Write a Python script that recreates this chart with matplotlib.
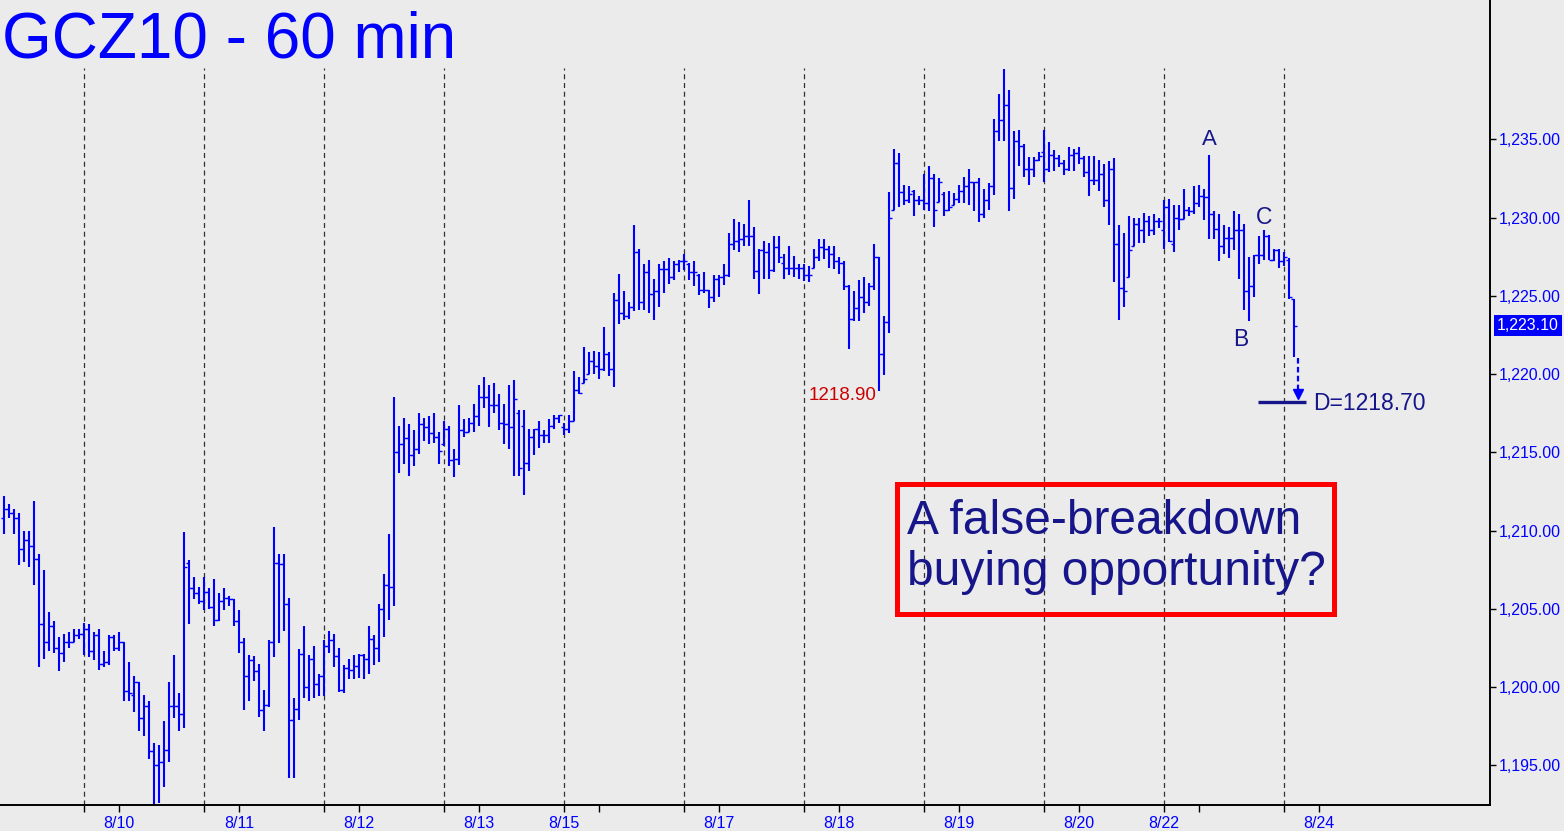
import numpy as np
import matplotlib
matplotlib.use('Agg')
import matplotlib.pyplot as plt
import matplotlib.transforms as mtransforms
from matplotlib.patches import Rectangle

plt.rcParams['font.family'] = ['Liberation Sans', 'DejaVu Sans']

# GCZ10 hourly bars (open, high, low, close), one entry per bar
opens = [
    1210.8, 1211.4, 1211.1, 1210.8, 1208.8, 1209.4, 1209.0, 1208.2, 1204.0, 1202.9,
    1203.9, 1202.5, 1202.2, 1202.9, 1202.9, 1203.3, 1203.4, 1203.7, 1202.3, 1203.3,
    1201.5, 1201.6, 1203.2, 1202.5, 1202.9, 1199.75, 1199.5, 1200.3, 1198.0, 1198.8,
    1195.9, 1195.0, 1195.2, 1196.0, 1198.8, 1198.8, 1198.3, 1207.9, 1206.3, 1206.0,
    1205.5, 1206.1, 1205.1, 1204.3, 1205.5, 1205.7, 1205.6, 1204.2, 1202.9, 1200.7,
    1201.7, 1201.0, 1198.5, 1198.85, 1202.9, 1207.95, 1207.85, 1205.3, 1197.9, 1198.6,
    1202.1, 1200.0, 1201.8, 1200.2, 1200.7, 1202.6, 1203.0, 1202.0, 1199.8, 1201.2,
    1201.1, 1201.35, 1202.05, 1201.8, 1203.05, 1202.5, 1205.0, 1206.5, 1206.4, 1215.0,
    1215.5, 1215.9, 1214.8, 1215.2, 1216.8, 1216.6, 1216.2, 1216.0, 1215.5, 1216.5,
    1214.5, 1214.6, 1216.4, 1216.3, 1216.9, 1217.3, 1218.5, 1218.5, 1218.0, 1218.0,
    1216.9, 1216.8, 1216.6, 1217.5, 1216.7, 1214.3, 1216.0, 1216.5, 1216.1, 1216.1,
    1216.7, 1217.2, 1216.6, 1216.5, 1217.0, 1219.0, 1219.4, 1220.0, 1220.85, 1220.5,
    1220.3, 1221.3, 1220.3, 1224.7, 1223.9, 1223.7, 1224.3, 1227.8, 1224.6, 1226.5,
    1225.1, 1225.3, 1226.7, 1226.7, 1226.2, 1227.0, 1227.25, 1227.0, 1226.5, 1226.3,
    1225.4, 1225.4, 1224.95, 1226.1, 1226.2, 1226.3, 1228.3, 1228.5, 1228.6, 1228.8,
    1228.8, 1226.6, 1227.9, 1227.8, 1226.65, 1228.1, 1227.1, 1226.8, 1226.8, 1226.8,
    1226.8, 1226.3, 1226.8, 1227.45, 1228.1, 1228.0, 1227.65, 1227.2, 1227.1, 1225.65,
    1223.5, 1224.2, 1224.9, 1224.6, 1225.6, 1227.5, 1221.3, 1223.35, 1230.5, 1233.46,
    1231.6, 1231.1, 1231.7, 1231.1, 1231.1, 1230.95, 1232.5, 1231.0, 1231.5, 1230.5,
    1230.8, 1231.2, 1231.7, 1232.0, 1232.3, 1232.25, 1230.2, 1231.1, 1232.0, 1235.5,
    1236.2, 1237.2, 1231.9, 1234.9, 1234.6, 1233.1, 1233.1, 1233.7, 1234.2, 1233.1,
    1234.0, 1233.8, 1233.5, 1233.1, 1234.0, 1234.1, 1233.8, 1232.9, 1232.4, 1232.4,
    1232.8, 1231.1, 1233.1, 1228.3, 1225.5, 1226.2, 1228.2, 1229.6, 1229.2, 1229.8,
    1229.2, 1229.8, 1229.2, 1230.65, 1228.3, 1230.0, 1229.9, 1230.5, 1230.4, 1230.95,
    1231.4, 1231.3, 1230.2, 1229.25, 1228.2, 1228.7, 1228.7, 1229.2, 1229.2, 1225.3,
    1225.65, 1227.6, 1227.6, 1228.8, 1227.3, 1227.9, 1227.2, 1227.3, 1224.8,
]
highs = [
    1212.2, 1211.7, 1211.4, 1211.1, 1210.0, 1210.0, 1211.9, 1208.5, 1207.5, 1204.8,
    1204.2, 1203.2, 1203.4, 1203.5, 1203.7, 1203.7, 1204.1, 1204.0, 1203.5, 1203.7,
    1202.3, 1203.3, 1203.3, 1203.5, 1202.9, 1201.6, 1200.7, 1200.3, 1199.5, 1199.1,
    1196.45, 1196.3, 1197.85, 1200.3, 1202.05, 1199.6, 1209.9, 1208.1, 1207.0, 1206.4,
    1207.0, 1206.3, 1206.9, 1206.0, 1206.3, 1205.8, 1205.6, 1204.9, 1203.1, 1202.05,
    1202.0, 1201.5, 1199.8, 1203.0, 1210.25, 1208.5, 1208.5, 1205.7, 1199.3, 1202.4,
    1203.9, 1202.05, 1202.6, 1200.8, 1203.0, 1203.6, 1203.4, 1202.5, 1201.4, 1201.8,
    1202.05, 1202.1, 1202.1, 1203.9, 1203.3, 1205.3, 1207.2, 1209.8, 1218.55, 1216.7,
    1217.2, 1216.8, 1216.4, 1217.5, 1217.2, 1217.3, 1217.5, 1216.3, 1217.0, 1216.7,
    1215.2, 1218.0, 1217.1, 1217.2, 1218.1, 1219.3, 1219.8, 1219.3, 1219.4, 1218.7,
    1218.1, 1219.3, 1219.6, 1217.7, 1217.7, 1216.5, 1216.5, 1217.0, 1216.4, 1217.1,
    1217.4, 1217.4, 1216.9, 1217.4, 1220.2, 1219.8, 1221.7, 1221.4, 1221.5, 1221.4,
    1223.0, 1221.4, 1225.15, 1226.4, 1225.3, 1224.6, 1229.5, 1228.0, 1227.0, 1227.3,
    1226.1, 1227.0, 1227.2, 1227.4, 1227.2, 1227.3, 1227.7, 1227.1, 1227.25, 1226.4,
    1226.5, 1225.4, 1226.3, 1226.3, 1227.0, 1229.0, 1229.9, 1229.7, 1229.6, 1231.1,
    1229.4, 1228.0, 1228.5, 1228.35, 1228.8, 1228.8, 1227.7, 1228.2, 1227.56, 1227.0,
    1227.0, 1226.9, 1228.0, 1228.6, 1228.6, 1228.2, 1228.2, 1227.45, 1227.2, 1225.7,
    1225.3, 1226.0, 1226.2, 1225.8, 1228.3, 1227.5, 1223.7, 1231.6, 1234.4, 1234.15,
    1232.1, 1232.0, 1231.76, 1231.4, 1232.8, 1233.3, 1232.8, 1232.5, 1231.6, 1231.7,
    1231.55, 1232.1, 1232.6, 1233.1, 1232.3, 1232.5, 1231.8, 1232.2, 1236.3, 1237.9,
    1239.5, 1238.15, 1235.5, 1235.6, 1234.7, 1233.85, 1233.85, 1234.2, 1235.6, 1234.8,
    1234.3, 1234.0, 1233.7, 1234.5, 1234.4, 1234.5, 1233.9, 1233.9, 1233.9, 1233.7,
    1233.4, 1233.6, 1233.8, 1229.5, 1229.0, 1230.1, 1230.0, 1230.0, 1230.3, 1230.1,
    1230.2, 1229.95, 1231.1, 1231.2, 1230.8, 1230.8, 1231.8, 1230.7, 1232.0, 1232.1,
    1231.8, 1234.0, 1230.4, 1230.2, 1229.5, 1229.4, 1230.4, 1230.2, 1229.6, 1227.5,
    1227.6, 1228.8, 1229.2, 1228.9, 1227.97, 1228.0, 1227.8, 1227.4, 1224.8,
]
lows = [
    1209.8, 1210.8, 1209.8, 1207.8, 1208.0, 1207.7, 1206.5, 1201.3, 1201.8, 1202.3,
    1202.2, 1201.0, 1201.6, 1202.5, 1202.9, 1203.05, 1202.05, 1201.9, 1201.7, 1201.1,
    1201.3, 1201.4, 1202.3, 1202.3, 1199.1, 1199.1, 1198.4, 1197.2, 1196.9, 1195.4,
    1192.5, 1192.6, 1193.6, 1195.2, 1198.0, 1197.2, 1197.4, 1204.0, 1205.6, 1205.3,
    1204.9, 1205.0, 1203.9, 1204.2, 1204.9, 1205.2, 1203.9, 1202.2, 1198.5, 1199.1,
    1200.4, 1198.1, 1197.2, 1198.75, 1201.9, 1202.8, 1203.6, 1194.2, 1194.2, 1197.9,
    1199.3, 1199.1, 1199.3, 1199.4, 1199.4, 1202.2, 1201.3, 1199.7, 1199.6, 1200.5,
    1200.5, 1200.6, 1200.5, 1200.8, 1201.4, 1201.6, 1203.2, 1204.3, 1205.2, 1213.7,
    1214.25, 1213.5, 1214.1, 1214.9, 1215.7, 1215.5, 1215.6, 1214.25, 1215.4, 1214.1,
    1213.4, 1214.2, 1216.0, 1216.3, 1216.3, 1216.7, 1217.8, 1216.6, 1217.5, 1216.4,
    1215.5, 1215.2, 1213.5, 1213.5, 1212.3, 1213.8, 1214.8, 1215.25, 1215.6, 1215.6,
    1216.5, 1216.9, 1216.1, 1216.2, 1217.0, 1218.7, 1219.4, 1220.0, 1220.0, 1219.7,
    1220.2, 1219.9, 1219.2, 1223.2, 1223.45, 1223.5, 1224.0, 1224.1, 1224.1, 1223.9,
    1223.45, 1224.3, 1225.2, 1225.75, 1226.0, 1226.5, 1226.65, 1226.0, 1225.6, 1225.05,
    1225.2, 1224.2, 1224.6, 1224.9, 1225.7, 1226.2, 1227.9, 1227.8, 1228.2, 1228.2,
    1226.1, 1225.1, 1226.1, 1226.1, 1226.5, 1227.1, 1226.1, 1226.3, 1226.22, 1226.1,
    1225.95, 1225.9, 1226.8, 1227.2, 1227.35, 1226.8, 1226.7, 1226.4, 1225.4, 1221.6,
    1223.4, 1223.4, 1223.9, 1224.37, 1225.4, 1218.9, 1219.94, 1222.6, 1230.5, 1230.7,
    1230.8, 1230.9, 1230.1, 1230.8, 1230.5, 1230.4, 1229.4, 1231.0, 1230.1, 1230.4,
    1230.8, 1230.9, 1230.9, 1230.8, 1230.4, 1229.7, 1230.0, 1230.5, 1231.45, 1234.9,
    1234.9, 1230.4, 1231.2, 1233.3, 1232.6, 1232.1, 1232.6, 1233.6, 1232.3, 1232.9,
    1233.0, 1233.2, 1232.7, 1233.0, 1233.0, 1233.4, 1232.6, 1231.4, 1232.1, 1231.7,
    1230.7, 1229.5, 1225.9, 1223.45, 1224.3, 1226.2, 1228.2, 1228.4, 1228.4, 1228.8,
    1228.9, 1229.3, 1228.0, 1228.45, 1227.8, 1229.2, 1229.9, 1230.1, 1230.2, 1230.7,
    1229.85, 1228.6, 1228.6, 1227.2, 1227.7, 1227.4, 1227.9, 1226.1, 1224.1, 1223.4,
    1224.9, 1227.0, 1227.3, 1227.3, 1227.2, 1226.8, 1226.9, 1224.8, 1221.1,
]
closes = [
    1211.4, 1211.1, 1210.8, 1208.8, 1209.4, 1209.0, 1208.2, 1204.0, 1202.9, 1203.9,
    1202.5, 1202.2, 1202.9, 1202.9, 1203.3, 1203.4, 1203.7, 1202.3, 1203.3, 1201.5,
    1201.6, 1203.2, 1202.5, 1202.9, 1199.75, 1199.6, 1200.3, 1198.0, 1198.8, 1195.9,
    1195.0, 1195.2, 1196.0, 1198.8, 1198.8, 1198.3, 1207.7, 1206.3, 1206.0, 1205.5,
    1206.1, 1205.1, 1204.3, 1205.5, 1205.7, 1205.6, 1204.2, 1202.9, 1200.7, 1201.7,
    1201.0, 1198.5, 1198.85, 1202.9, 1207.95, 1207.85, 1205.3, 1197.9, 1198.6, 1202.1,
    1200.0, 1201.8, 1200.2, 1200.7, 1202.6, 1203.0, 1202.0, 1199.8, 1201.2, 1201.1,
    1201.35, 1202.05, 1201.8, 1203.05, 1202.5, 1205.0, 1206.5, 1206.4, 1215.0, 1215.5,
    1215.9, 1214.8, 1215.2, 1216.8, 1216.6, 1216.2, 1216.0, 1215.1, 1216.5, 1214.5,
    1214.6, 1216.4, 1216.3, 1216.9, 1217.3, 1218.5, 1218.5, 1218.0, 1218.0, 1216.9,
    1216.8, 1216.6, 1218.4, 1214.0, 1214.3, 1216.0, 1216.5, 1216.1, 1216.1, 1216.7,
    1217.2, 1217.4, 1216.5, 1217.0, 1219.0, 1218.8, 1219.7, 1220.85, 1220.5, 1220.3,
    1221.3, 1220.3, 1224.7, 1223.9, 1223.7, 1224.3, 1227.8, 1224.6, 1226.5, 1225.1,
    1225.3, 1226.7, 1226.7, 1226.2, 1227.0, 1227.25, 1227.25, 1226.5, 1226.5, 1225.4,
    1225.4, 1224.95, 1226.1, 1226.2, 1226.3, 1228.3, 1228.5, 1228.6, 1228.8, 1228.8,
    1226.6, 1227.9, 1227.8, 1226.65, 1228.1, 1227.5, 1226.8, 1226.8, 1226.8, 1226.8,
    1226.3, 1226.3, 1227.45, 1228.1, 1228.0, 1227.65, 1227.2, 1227.1, 1225.65, 1223.5,
    1224.2, 1224.9, 1224.6, 1225.6, 1227.5, 1221.3, 1223.35, 1229.95, 1233.46, 1231.6,
    1231.1, 1231.5, 1231.1, 1231.1, 1230.95, 1232.5, 1230.5, 1232.3, 1230.5, 1230.7,
    1231.2, 1231.7, 1232.0, 1232.3, 1232.25, 1230.2, 1231.1, 1232.0, 1235.5, 1236.2,
    1237.2, 1231.9, 1234.9, 1234.6, 1233.1, 1233.1, 1233.7, 1233.9, 1233.1, 1234.0,
    1233.8, 1233.5, 1233.1, 1234.0, 1234.1, 1233.8, 1232.9, 1232.4, 1232.4, 1232.8,
    1231.1, 1233.1, 1228.3, 1225.5, 1225.3, 1227.9, 1229.6, 1229.2, 1229.8, 1229.2,
    1229.8, 1229.8, 1230.65, 1228.5, 1230.0, 1229.9, 1230.5, 1230.4, 1230.95, 1231.4,
    1231.3, 1230.2, 1229.25, 1228.2, 1228.7, 1228.7, 1229.2, 1229.2, 1225.3, 1225.65,
    1227.6, 1227.6, 1228.8, 1227.3, 1227.9, 1227.2, 1227.5, 1224.9, 1223.1,
]

# bar index where each new session starts (dashed separators)
session_starts = [16, 40, 64, 88, 112, 136, 160, 184, 208, 232, 256]
extra_ticks = [119, 239]
date_labels = ['8/10', '8/11', '8/12', '8/13', '8/15', '8/17', '8/18', '8/19', '8/20', '8/22', '8/24']
date_label_bars = [23, 47, 71, 95, 112, 143, 167, 191, 215, 232, 263]
price_ticks = [1195, 1200, 1205, 1210, 1215, 1220, 1225, 1230, 1235]

last_price = 1223.10
low_label = '1218.90'
target = 1218.70

blue = '#0000ff'
navy = '#16168a'
bg = '#ebebeb'

fig = plt.figure(figsize=(15.64, 8.31), dpi=100, facecolor=bg)
ax = fig.add_axes([0, 26 / 831, 1490 / 1564, 805 / 831])
ax.set_facecolor(bg)

ymin, ymax = 1192.46, 1243.9
ax.set_xlim(-0.8, 297.2)
ax.set_ylim(ymin, ymax)

x = np.arange(len(closes))
ax.vlines(session_starts, ymin, 1239.55, colors='#333333', linestyles=(0, (4, 3)), lw=0.9, zorder=1)
ax.vlines(x, lows, highs, colors=blue, lw=1.5, zorder=3)
ax.hlines(opens, x - 0.65, x, colors=blue, lw=1.0, zorder=3)
ax.hlines(closes, x, x + 0.65, colors=blue, lw=1.0, zorder=3)

# axes styling
for side in ['left', 'top']:
    ax.spines[side].set_visible(False)
for side in ['right', 'bottom']:
    ax.spines[side].set_color('black')
    ax.spines[side].set_linewidth(1.4)

ax.yaxis.tick_right()
ax.set_yticks(price_ticks)
ax.set_yticklabels(['{:,.2f}'.format(p) for p in price_ticks])
ax.tick_params(axis='y', direction='out', length=4, width=1, colors='black',
               labelcolor=blue, labelsize=11.5, pad=2)

ax.set_xticks(date_label_bars)
ax.set_xticklabels(date_labels)
ax.set_xticks(session_starts + extra_ticks, minor=True)
ax.tick_params(axis='x', which='both', direction='out', length=5, width=1, colors='black',
               labelcolor=blue, labelsize=11.5, pad=3)

# current price tag
trans = mtransforms.blended_transform_factory(ax.transAxes, ax.transData)
ax.text(1.0045, last_price, '{:,.2f}'.format(last_price), transform=trans, color='white',
        fontsize=11.5, va='center', ha='left', clip_on=False,
        bbox=dict(facecolor=blue, edgecolor='none', pad=2.2))

# title
fig.text(2 / 1564, 1 - 58 / 831, 'GCZ10 - 60 min', fontsize=46, color=blue, va='baseline', ha='left')

# annotations
ax.text(174.4, 1218.6, low_label, color='#cc0000', fontsize=13.5, ha='right', va='center')
ax.text(241, 1235.0, 'A', color=navy, fontsize=16, ha='center', va='center')
ax.text(247.4, 1222.2, 'B', color=navy, fontsize=16.5, ha='center', va='center')
ax.text(252, 1230.0, 'C', color=navy, fontsize=16.5, ha='center', va='center')

ax.plot([258.8, 258.8], [1221.0, 1219.0], color=blue, lw=1.6, ls=(0, (2.5, 1.5)), zorder=4)
ax.plot(258.8, 1218.75, marker='v', color=blue, ms=7, zorder=4)
ax.hlines(1218.2, 250.8, 260.4, colors=navy, lw=2.4, zorder=4)
ax.text(261.8, 1218.1, 'D={:.2f}'.format(target), color=navy, fontsize=16.5, ha='left', va='center')

ax.add_patch(Rectangle((178.6, 1204.65), 266 - 178.6, 1213.0 - 1204.65, fill=False,
                       edgecolor='#ff0000', lw=3.6, zorder=5))
ax.text(180.6, 1208.95, 'A false-breakdown\nbuying opportunity?', color=navy, fontsize=34.5,
        ha='left', va='center', linespacing=1.17, zorder=5)

fig.savefig('out.png', dpi=100, facecolor=bg)
